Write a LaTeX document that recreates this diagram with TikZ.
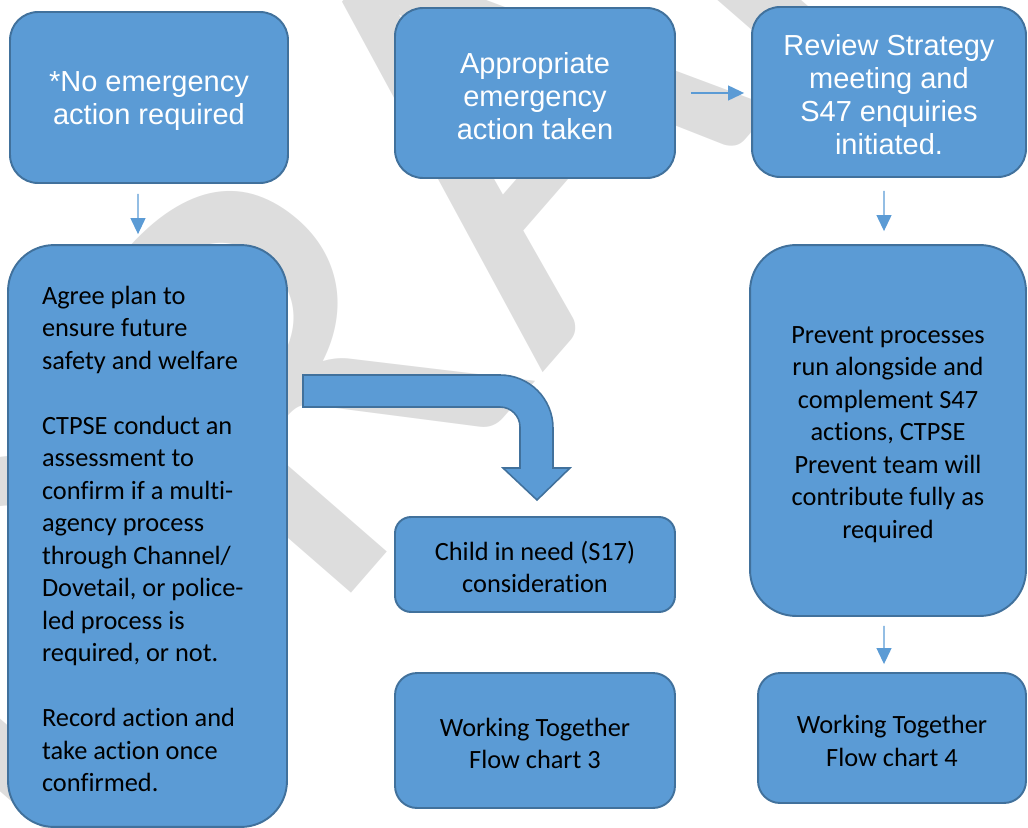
\documentclass[tikz,border=0pt]{standalone}
\usepackage{fontspec}
\setmainfont{Carlito}[Ligatures=NoCommon]
\newfontfamily\arialfont{Liberation Sans}
\usepackage{xcolor}
\usetikzlibrary{arrows.meta,positioning}
\definecolor{bfill}{HTML}{5B9BD5}
\definecolor{bline}{HTML}{41719C}
\definecolor{wmark}{HTML}{DDDDDD}

\begin{document}
\begin{tikzpicture}[
  x=0.02cm, y=-0.02cm,
  panel/.style={draw=bline,fill=bfill,line width=1.1pt,align=center,inner sep=0pt,text width=5cm},
  toptext/.style={font=\arialfont\fontsize{16.5pt}{18.8pt}\selectfont,text=white,
    execute at begin node={\spaceskip=\fontdimen2\font\relax\rule{0pt}{15.2pt}}},
  lowtext/.style={font=\fontsize{15pt}{18.5pt}\selectfont,text=black,
    execute at begin node={\spaceskip=\fontdimen2\font\relax\rule{0pt}{14pt}}},
  link/.style={draw=bfill,line width=0.7pt,-{Triangle[length=3.2mm,width=3mm]}}
]
\useasboundingbox (0,0) rectangle (1028,828);
\node[rotate=49,anchor=base west,text=wmark,inner sep=0pt,
  font=\fontsize{350pt}{350pt}\selectfont] (draft) at (74,912) {DRAFT};

\node[panel,toptext,minimum width=5.56cm,minimum height=3.42cm,rounded corners=0.56cm] (noaction) at (149,97.5) {*No emergency\\action required};
\node[panel,toptext,minimum width=5.6cm,minimum height=3.4cm,rounded corners=0.56cm] (taken) at (535,93) {Appropriate\\emergency\\action taken};
\node[panel,toptext,minimum width=5.48cm,minimum height=3.4cm,rounded corners=0.56cm] (review) at (889,92) {Review Strategy\\meeting and\\S47 enquiries\\initiated.};
\node[panel,lowtext,minimum width=5.58cm,minimum height=11.64cm,rounded corners=0.92cm,text width=4.22cm,align=left] (plan) at (147.5,536)
  {Agree plan to\\ensure future\\safety and welfare\\[18.5pt]CTPSE conduct an\\assessment to\\confirm if a multi-\\agency process\\through Channel/\\Dovetail, or police-\\led process is\\required, or not.\\[18.5pt]Record action and\\take action once\\confirmed.};
\node[panel,lowtext,minimum width=5.52cm,minimum height=7.42cm,rounded corners=0.92cm] (prevent) at (888,430.5)
  {Prevent processes\\run alongside and\\complement S47\\actions, CTPSE\\Prevent team will\\contribute fully as\\required};
\node[panel,lowtext,minimum width=5.6cm,minimum height=1.9cm,rounded corners=0.32cm] (childneed) at (535,564.5) {Child in need (S17)\\consideration};
\node[panel,lowtext,minimum width=5.6cm,minimum height=2.7cm,rounded corners=0.44cm] (wtthree) at (535,740.5) {Working Together\\Flow chart 3};
\node[panel,lowtext,minimum width=5.36cm,minimum height=2.6cm,rounded corners=0.44cm] (wtfour) at (892,738) {Working Together\\Flow chart 4};

\draw[link,shorten <=0.2cm,shorten >=0.2cm] ([xshift=-0.22cm]noaction.south) -- ([xshift=-0.19cm]plan.north);
\draw[link,shorten <=0.3cm,shorten >=0.14cm] (taken.east) -- (taken.east -| review.west);
\draw[link,shorten <=0.26cm,shorten >=0.26cm] ([xshift=-0.1cm]review.south) -- ([xshift=-0.08cm]prevent.north);
\draw[link,shorten <=0.18cm,shorten >=0.16cm] ([xshift=-0.08cm]prevent.south) -- ([xshift=-0.16cm]wtfour.north);

% bent block arrow towards the S17 box
\draw[draw=bline,fill=bfill,line width=0.9pt,line join=miter]
  (303,375) -- (500,375) .. controls (529.3,375) and (553,398.7) .. (553,428)
  -- (553,468) -- (570,468) -- (537,500) -- (503,468) -- (520,468) -- (520,427)
  .. controls (520,416) and (511,407) .. (500,407) -- (303,407) -- cycle;
\end{tikzpicture}
\end{document}
